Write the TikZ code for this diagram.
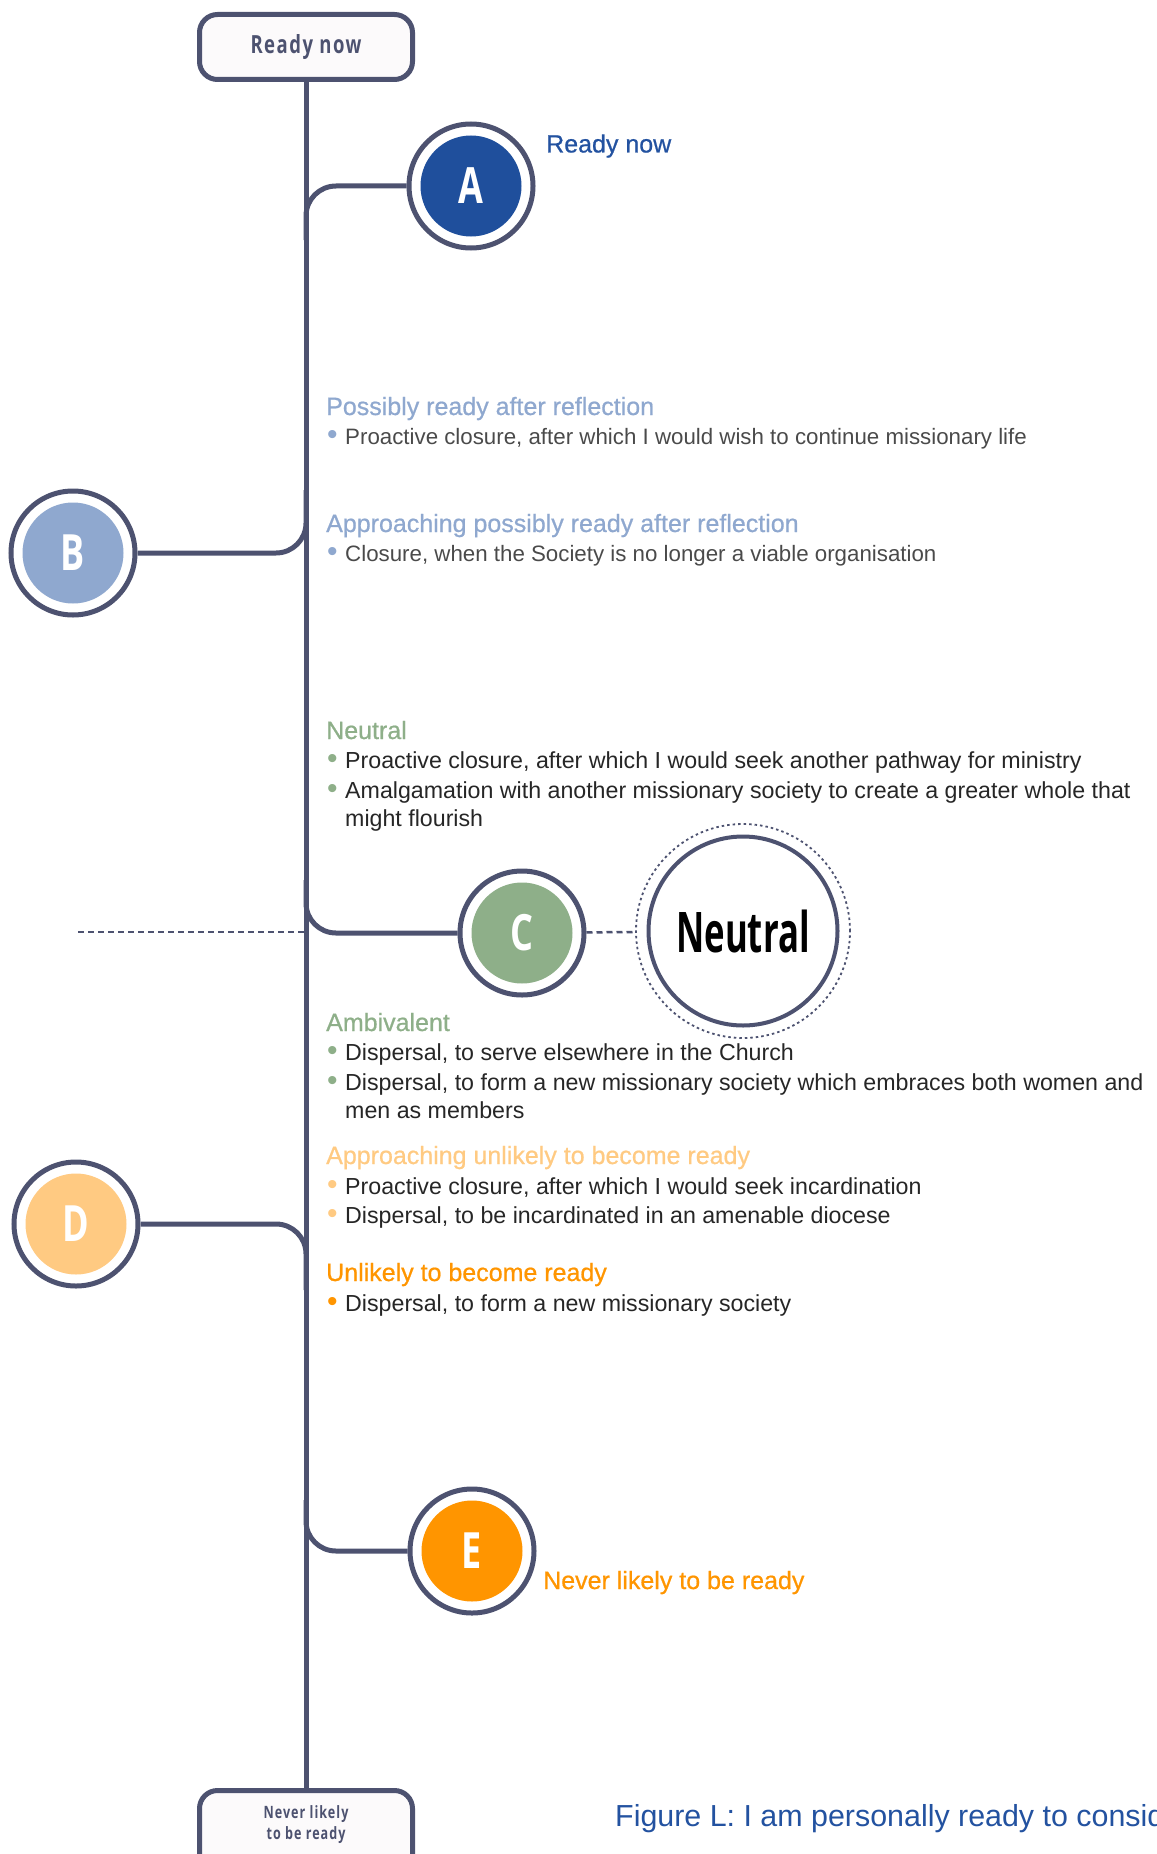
\documentclass[tikz,border=0pt]{standalone}
\usepackage{fontspec}
\setmainfont{Liberation Sans}
\newfontfamily\headfont[FakeBold=0.7]{Liberation Sans}
\newfontfamily\condfont[FakeStretch=0.72]{Open Sans}
\newfontfamily\boxfont[FakeStretch=0.74, LetterSpace=6]{Open Sans}
\newfontfamily\neutfont[FakeStretch=0.62]{Open Sans}
\definecolor{linec}{HTML}{4D5270}
\definecolor{boxfill}{HTML}{FCFAFB}
\definecolor{colA}{HTML}{1F4F9C}
\definecolor{colB}{HTML}{8FA8CF}
\definecolor{colC}{HTML}{8EAF89}
\definecolor{colD}{HTML}{FFCA82}
\definecolor{colE}{HTML}{FF9500}
\definecolor{labA}{HTML}{2352A0}
\definecolor{bodyc}{HTML}{262626}
\definecolor{lightc}{HTML}{4A4A4A}
\newcommand\bul[1]{\makebox[18pt][l]{\textcolor{#1}{\fontsize{30}{30}\selectfont •}}}
\begin{document}
\begin{tikzpicture}[x=1pt,y=-1pt,
  conn/.style={draw=linec, line width=5pt},
  branch/.style={conn, rounded corners=30pt},
  boxst/.style={rectangle, rounded corners=18pt, draw=linec, line width=5pt, fill=boxfill,
    minimum width=213pt, inner sep=0pt},
  ringst/.style={circle, draw=linec, line width=5pt, fill=white, minimum size=124pt,
    inner sep=0pt, text=white, font=\condfont\bfseries\fontsize{50}{50}\selectfont,
    path picture={\fill[#1] (path picture bounding box.center) circle (50.5pt);}},
  dashline/.style={draw=linec, line width=2.5pt, dash pattern=on 6pt off 4pt},
  head/.style={anchor=base west, inner sep=0pt, text=#1, font=\headfont\fontsize{25}{25}\selectfont},
  body/.style={anchor=base west, inner sep=0pt, text=bodyc, font=\fontsize{23.2}{23.2}\selectfont},
  lbody/.style={anchor=base west, inner sep=0pt, text=lightc, font=\fontsize{22.3}{22.3}\selectfont}
]
\useasboundingbox (0,0) rectangle (1156,1854);
\clip (0,0) rectangle (1156,1854);

% boxes
\node[boxst, minimum height=65pt, text=linec, font=\boxfont\bfseries\fontsize{25}{25}\selectfont] (top) at (306,47) {Ready now};
\node[boxst, minimum height=100pt] (bot) at (306,1840.5) {};
\node[text=linec, align=center, inner sep=0pt, font=\boxfont\bfseries\fontsize{17}{21}\selectfont] (botl) at (306,1825) {Never likely\\to be ready};

% trunk
\draw[conn] (top) -- (bot);

% junction points on the trunk
\coordinate (jA) at (306,240);
\coordinate (jB) at (306,490);
\coordinate (jC) at (306,880);
\coordinate (jD) at (306,1290);
\coordinate (jE) at (306,1500);
\coordinate (dl) at (78,932);
\coordinate (jCd) at (306,932);

% circles
\node[ringst=colA] (A) at (471,186) {A};
\node[ringst=colB] (B) at (73,553) {B};
\node[ringst=colC] (C) at (522,933) {C};
\node[ringst=colD] (D) at (76,1224) {D};
\node[ringst=colE] (E) at (472,1551) {E};

% branches
\draw[branch] (jA) |- (A);
\draw[branch] (B) -| (jB);
\draw[branch] (jC) |- (C);
\draw[branch] (D) -| (jD);
\draw[branch] (jE) |- (E);

% neutral
\node[circle, minimum size=214pt, inner sep=0pt, draw=linec, line width=1.8pt, dash pattern=on 2.5pt off 3pt] (Nd) at (743,931) {};
\node[circle, minimum size=189pt, inner sep=0pt, draw=linec, line width=4pt, fill=white,
  font=\neutfont\bfseries\fontsize{56}{56}\selectfont] (N) at (743,931) {Neutral};
\draw[dashline] (C) -- (Nd);
\draw[dashline] (dl) -- (jCd);

% labels
\node[head=labA] (tA) at (546,152.5) {Ready now};
\node[head=colE] (tE) at (543,1589) {Never likely to be ready};

\node[head=colB] (h1) at (326,415) {Possibly ready after reflection};
\node[lbody] (b1) at (327,444) {\bul{colB}Proactive closure, after which I would wish to continue missionary life};
\node[head=colB] (h2) at (326,532) {Approaching possibly ready after reflection};
\node[lbody] (b2) at (327,561) {\bul{colB}Closure, when the Society is no longer a viable organisation};

\node[head=colC] (h3) at (326,739) {Neutral};
\node[body] (b3) at (327,768) {\bul{colC}Proactive closure, after which I would seek another pathway for ministry};
\node[body] (b4) at (327,798) {\bul{colC}Amalgamation with another missionary society to create a greater whole that};
\node[body] (b4b) at (345,826) {might flourish};

\node[head=colC] (h4) at (326,1031) {Ambivalent};
\node[body] (b5) at (327,1060) {\bul{colC}Dispersal, to serve elsewhere in the Church};
\node[body] (b6) at (327,1090) {\bul{colC}Dispersal, to form a new missionary society which embraces both women and};
\node[body] (b6b) at (345,1118) {men as members};

\node[head=colD] (h5) at (326,1164) {Approaching unlikely to become ready};
\node[body] (b7) at (327,1194) {\bul{colD}Proactive closure, after which I would seek incardination};
\node[body] (b8) at (327,1223) {\bul{colD}Dispersal, to be incardinated in an amenable diocese};

\node[head=colE] (h6) at (326,1281) {Unlikely to become ready};
\node[body] (b9) at (327,1311) {\bul{colE}Dispersal, to form a new missionary society};

% caption
\node[anchor=base west, inner sep=0pt, text=labA, font=\fontsize{30.4}{30.4}\selectfont] (cap) at (615,1826) {Figure L: I am personally ready to consider};
\end{tikzpicture}
\end{document}
